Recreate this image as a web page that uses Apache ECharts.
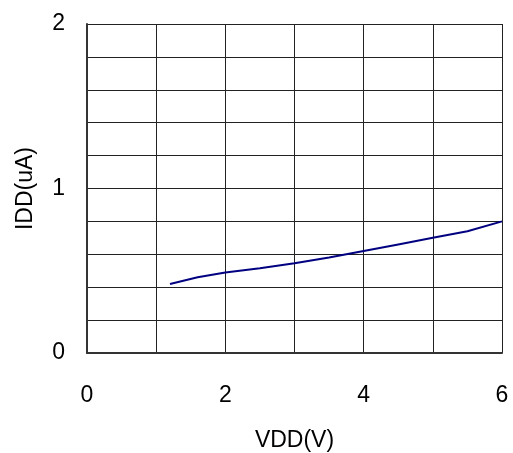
<!DOCTYPE html>
<html><head><meta charset="utf-8">
<script src="https://cdn.jsdelivr.net/npm/echarts@6/dist/echarts.min.js"></script>
<style>html,body{margin:0;padding:0;background:#fff}#c{width:513px;height:453px}</style>
</head><body><div id="c"></div>
<script>
var vdd = [1.2, 1.6, 2, 2.5, 3, 3.5, 4, 4.5, 5, 5.5, 6];
var idd = [0.42, 0.46, 0.49, 0.515, 0.545, 0.58, 0.62, 0.66, 0.70, 0.74, 0.80];
var xName = 'VDD(V)';
var yName = 'IDD(uA)';
var chart = echarts.init(document.getElementById('c'));
var font = 'Liberation Sans, Arial, sans-serif';
chart.setOption({
  animation: false,
  grid: {left: 87, right: 11, top: 24, bottom: 100, containLabel: false, outerBoundsMode: 'none'},
  xAxis: {
    type: 'value', min: 0, max: 6, interval: 1,
    name: xName, nameLocation: 'middle', nameGap: 76,
    nameTextStyle: {fontSize: 23, color: '#000', fontFamily: font},
    axisLine: {show: true, lineStyle: {color: '#333', width: 2}},
    axisTick: {show: false},
    axisLabel: {fontSize: 23, color: '#000', fontFamily: font, margin: 31,
      formatter: function (v) { return (Math.round(v) % 2 === 0) ? String(v) : ''; }},
    splitLine: {show: true, lineStyle: {color: '#222', width: 1}}
  },
  yAxis: {
    type: 'value', min: 0, max: 2, interval: 0.2,
    name: yName, nameLocation: 'middle', nameGap: 50,
    nameTextStyle: {fontSize: 23, color: '#000', fontFamily: font},
    axisLine: {show: true, lineStyle: {color: '#333', width: 2}},
    axisTick: {show: false},
    axisLabel: {fontSize: 23, color: '#000', fontFamily: font, margin: 22,
      formatter: function (v) { return Math.abs(v - Math.round(v)) < 1e-6 ? String(Math.round(v)) : ''; }},
    splitLine: {show: true, lineStyle: {color: '#222', width: 1}}
  },
  series: [{
    type: 'line', data: vdd.map(function (x, i) { return [x, idd[i]]; }),
    showSymbol: false, symbol: 'none', smooth: false,
    lineStyle: {color: '#000080', width: 2}
  }]
});
</script></body></html>
